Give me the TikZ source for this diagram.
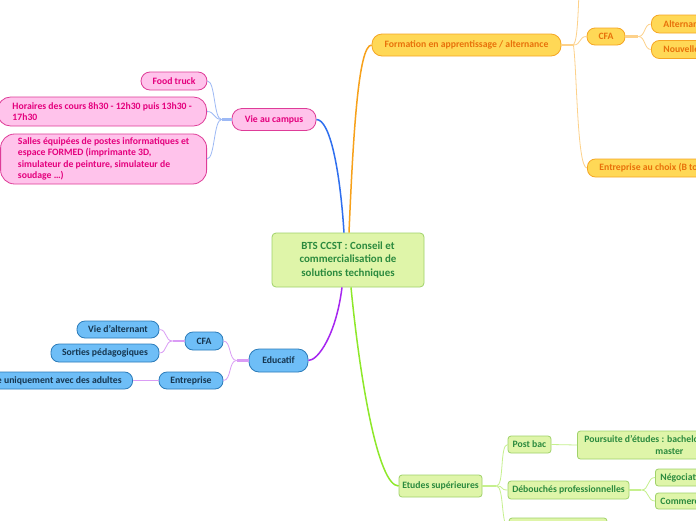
\documentclass[tikz,border=0pt]{standalone}
\usepackage{fontspec}
\setmainfont{Carlito}
\definecolor{orF}{HTML}{FFD856}
\definecolor{orD}{HTML}{F5A623}
\definecolor{orT}{HTML}{E8710A}
\definecolor{orM}{HTML}{F7A11A}
\definecolor{orL}{HTML}{FDD18A}
\definecolor{piF}{HTML}{FFC3EB}
\definecolor{piD}{HTML}{DE3C98}
\definecolor{piT}{HTML}{E4007D}
\definecolor{blM}{HTML}{2F6FEF}
\definecolor{blL}{HTML}{9DB9F5}
\definecolor{buF}{HTML}{6EBEF7}
\definecolor{buD}{HTML}{2B7BB9}
\definecolor{buT}{HTML}{163650}
\definecolor{puM}{HTML}{A626F0}
\definecolor{puL}{HTML}{DA9CF5}
\definecolor{grF}{HTML}{DFF5A9}
\definecolor{grD}{HTML}{A0D26A}
\definecolor{grT}{HTML}{2B8A3E}
\definecolor{grM}{HTML}{8EE82A}
\definecolor{grL}{HTML}{C6F08E}
\tikzset{
  base/.style={draw, line width=0.8pt, font=\bfseries\fontsize{9.7}{11.5}\selectfont, inner ysep=0pt, inner xsep=3pt, align=center},
  onode/.style={base, fill=orF, draw=orD, text=orT, rounded corners=8pt, minimum height=18pt},
  pnode/.style={base, fill=piF, draw=piD, text=piT, rounded corners=9pt, minimum height=18pt},
  bnode/.style={base, fill=buF, draw=buD, text=buT, rounded corners=8pt, minimum height=17pt},
  gnode/.style={base, fill=grF, draw=grD, text=grT, rounded corners=3pt, minimum height=17pt},
  omain/.style={draw=orM, line width=1.5pt},
  osub/.style={draw=orL, line width=0.8pt},
  ostub/.style={draw=orL, line width=2.5pt},
  bmain/.style={draw=blM, line width=1.5pt},
  bsub/.style={draw=blL, line width=0.8pt},
  bstub/.style={draw=blL, line width=2.5pt},
  pmain/.style={draw=puM, line width=1.5pt},
  psub/.style={draw=puL, line width=0.8pt},
  pstub/.style={draw=puL, line width=2.5pt},
  gmain/.style={draw=grM, line width=1.5pt},
  gsub/.style={draw=grL, line width=0.8pt},
  gstub/.style={draw=grL, line width=2.5pt},
}
\begin{document}
\begin{tikzpicture}[x=1pt,y=-1pt]
\useasboundingbox (0,0) rectangle (696,520);
\clip (0,0) rectangle (696,520);
\fill[white] (0,0) rectangle (696,520);

% central
\node[base, fill=grF, draw=grD, text=grT, rounded corners=4pt, minimum width=152pt, minimum height=54pt,
  font=\bfseries\fontsize{10.9}{13.3}\selectfont] (c) at (348,260)
  {BTS CCST : Conseil et\\commercialisation de\\solutions techniques};

% orange branch
\node[onode, minimum width=189pt, minimum height=22pt, rounded corners=10pt] (form) at (466.5,45) {Formation en apprentissage / alternance};
\node[onode, minimum width=38pt, minimum height=17pt] (cfaO) at (606,36.5) {CFA};
\node[onode, anchor=west, inner xsep=12pt] (altern) at (651,24) {Alternance};
\node[onode, anchor=west, inner xsep=12pt] (nouv) at (651,49.5) {Nouvelles};
\node[onode, anchor=west, inner xsep=12pt] (entr) at (587,168) {Entreprise au choix (B to};
\coordinate (jO) at ([xshift=12pt]form.east);
\coordinate (jC) at ([xshift=13pt]cfaO.east);
\coordinate (upO) at (580,-30);

% pink branch
\node[pnode, minimum width=84pt, minimum height=22pt, rounded corners=10pt] (vie) at (274,119.5) {Vie au campus};
\node[pnode, minimum width=66pt] (food) at (174,81) {Food truck};
\node[pnode, anchor=east, align=left, minimum width=209pt, minimum height=29pt, rounded corners=13pt] (hor) at (207,111.5)
  {Horaires des cours 8h30 - 12h30 puis 13h30 -\\17h30};
\node[pnode, anchor=east, align=left, minimum width=206pt, minimum height=50pt, rounded corners=14pt] (salles) at (207,159)
  {Salles équipées de postes informatiques et\\espace FORMED (imprimante 3D,\\simulateur de peinture, simulateur de\\soudage \dots)};
\coordinate (jP) at ([xshift=-10pt]vie.west);

% blue branch
\node[bnode, minimum width=59pt, minimum height=23pt, rounded corners=10pt] (edu) at (278.5,360.5) {Educatif};
\node[bnode, minimum width=38pt, minimum height=18pt] (cfaB) at (204,341) {CFA};
\node[bnode, minimum width=64pt] (entB) at (191,380.5) {Entreprise};
\node[bnode, minimum width=82pt] (vieA) at (118,329.5) {Vie d'alternant};
\node[bnode, minimum width=108pt, minimum height=18pt] (sort) at (105,353) {Sorties pédagogiques};
\node[bnode, anchor=east, inner xsep=11pt] (adul) at (133,380.5) {e uniquement avec des adultes};
\coordinate (jE) at ([xshift=-12pt]edu.west);
\coordinate (jB) at ([xshift=-12pt]cfaB.west);

% green branch
\node[gnode, minimum width=83pt, minimum height=22pt] (etu) at (440.5,486) {Etudes supérieures};
\node[gnode, minimum width=43pt] (post) at (529.5,444.5) {Post bac};
\node[gnode, anchor=west, align=left, inner xsep=7pt, minimum height=28pt] (pours) at (577,445)
  {Poursuite d'études : bachelor\\\hspace*{71pt}master};
\node[gnode, minimum width=121pt, minimum height=18pt] (deb) at (568.5,490) {Débouchés professionnelles};
\node[gnode, anchor=west, inner xsep=5pt] (neg) at (655,477.5) {Négociation};
\node[gnode, anchor=west, inner xsep=5pt, minimum height=16pt] (com) at (655,501) {Commerce};
\node[gnode, minimum width=98pt, minimum height=18pt] (third) at (558,527) {};
\coordinate (jG) at ([xshift=14pt]etu.east);
\coordinate (jD) at ([xshift=12pt]deb.east);

% main connectors
\draw[omain] ([xshift=1pt]c.north) .. controls (353,140) and (358,45) .. (form.west);
\draw[bmain] ([xshift=-4pt]c.north) .. controls (340,170) and (330,119.5) .. (vie.east);
\draw[pmain] ([xshift=-6pt]c.south) .. controls (336,335) and (318,360.5) .. (edu.east);
\draw[gmain] ([xshift=3pt]c.south) .. controls (360,380) and (378,486) .. (etu.west);

% orange subs
\draw[ostub] (form.east) -- (jO);
\draw[osub] (jO) .. controls (578,40) and (578,10) .. (upO);
\draw[osub] (jO) .. controls +(8,0) and +(-8,0) .. (cfaO.west);
\draw[osub] (jO) .. controls (577,70) and (577,168) .. (entr.west);
\draw[ostub] (cfaO.east) -- (jC);
\draw[osub] (jC) .. controls +(7,0) and +(-7,0) .. (altern.west);
\draw[osub] (jC) .. controls +(7,0) and +(-7,0) .. (nouv.west);

% pink subs
\draw[bstub] (vie.west) -- (jP);
\draw[bsub] (jP) .. controls +(-8,0) and +(8,0) .. (food.east);
\draw[bsub] (jP) .. controls +(-8,0) and +(8,0) .. (hor.east);
\draw[bsub] (jP) .. controls +(-8,0) and +(8,0) .. (salles.east);

% blue subs
\draw[pstub] (edu.west) -- (jE);
\draw[psub] (jE) .. controls +(-8,0) and +(8,0) .. (cfaB.east);
\draw[psub] (jE) .. controls +(-8,0) and +(8,0) .. (entB.east);
\draw[pstub] (cfaB.west) -- (jB);
\draw[psub] (jB) .. controls +(-8,0) and +(8,0) .. (vieA.east);
\draw[psub] (jB) .. controls +(-8,0) and +(8,0) .. (sort.east);
\draw[psub] (entB.west) -- (adul.east);

% green subs
\draw[gstub] (etu.east) -- (jG);
\draw[gsub] (jG) .. controls +(8,0) and +(-8,0) .. (post.west);
\draw[gsub] (jG) .. controls +(8,0) and +(-8,0) .. (deb.west);
\draw[gsub] (jG) .. controls +(8,0) and +(-8,0) .. (third.west);
\draw[gsub] (post.east) -- (pours.west);
\draw[gstub] (deb.east) -- (jD);
\draw[gsub] (jD) .. controls +(8,0) and +(-8,0) .. (neg.west);
\draw[gsub] (jD) .. controls +(8,0) and +(-8,0) .. (com.west);
\end{tikzpicture}
\end{document}
